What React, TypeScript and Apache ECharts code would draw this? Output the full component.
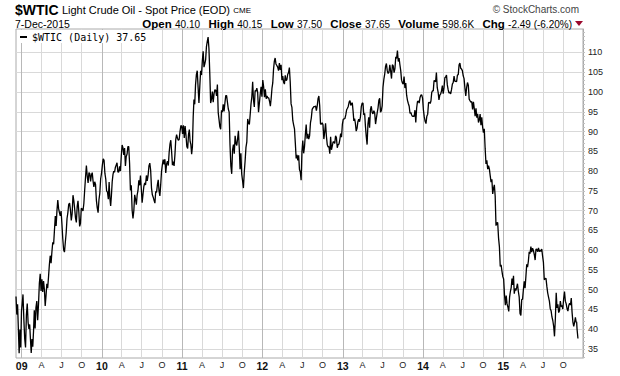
import React, { useEffect, useRef } from "react";
import * as echarts from "echarts";

// WTIC spot price, 8 readings per month
const dec2008 = [48.3, 43.7, 46.3, 40.1, 33.9, 39.9, 35.4, 44.6];
const y2009 = [
  46.3, 48.8, 42.6, 37.6, 35.4, 43.6, 46.5, 41.7,
  40.1, 41.2, 37.5, 34.0, 37.5, 35.6, 39.4, 44.8,
  40.2, 45.5, 47.1, 42.3, 46.3, 51.6, 54.0, 49.7,
  52.6, 49.4, 52.2, 50.1, 45.9, 48.5, 51.5, 50.4,
  53.2, 56.3, 58.6, 56.7, 59.6, 62.0, 61.5, 65.1,
  68.6, 66.1, 70.0, 72.7, 70.5, 69.5, 68.7, 69.9,
  66.7, 62.9, 60.1, 59.5, 62.0, 64.4, 68.0, 69.5,
  71.6, 71.9, 70.2, 67.5, 69.2, 73.9, 72.5, 70.4,
  68.1, 67.0, 71.0, 72.5, 69.7, 66.0, 66.8, 70.6,
  70.4, 69.9, 71.8, 75.2, 78.5, 81.4, 78.7, 77.0,
  79.6, 79.4, 77.4, 79.0, 79.6, 77.5, 76.0, 77.3,
  76.6, 72.6, 70.7, 69.5, 72.7, 74.4, 78.0, 79.4,
];
const y2010 = [
  81.5, 83.1, 82.7, 79.4, 78.0, 75.0, 74.7, 72.9,
  77.2, 73.1, 71.2, 73.9, 77.3, 79.1, 80.0, 79.7,
  80.9, 81.5, 82.1, 79.8, 79.7, 81.2, 80.0, 83.8,
  86.6, 85.9, 84.1, 85.8, 81.3, 83.7, 84.3, 86.2,
  86.2, 82.0, 75.1, 76.4, 70.1, 68.0, 70.0, 74.0,
  72.9, 71.5, 74.0, 75.1, 77.7, 76.4, 78.9, 75.6,
  72.0, 74.1, 76.1, 77.0, 76.5, 78.9, 77.5, 78.9,
  81.3, 82.0, 80.2, 75.7, 74.0, 73.4, 72.6, 71.9,
  74.9, 74.6, 76.5, 77.8, 75.0, 73.7, 76.5, 79.9,
  81.6, 82.9, 81.7, 83.0, 79.5, 81.8, 82.5, 81.4,
  84.7, 86.8, 87.8, 84.9, 81.5, 82.4, 81.3, 84.1,
  88.0, 89.2, 88.3, 87.8, 88.0, 90.0, 91.5, 91.4,
];
const y2011 = [
  89.4, 91.6, 88.4, 91.4, 89.1, 86.2, 85.7, 89.3,
  90.5, 87.5, 86.7, 84.3, 86.2, 93.6, 98.1, 96.9,
  101.8, 104.4, 105.4, 101.2, 97.2, 101.4, 105.4, 104.3,
  107.9, 110.3, 106.3, 107.1, 108.2, 111.5, 112.8, 113.9,
  111.0, 104.7, 97.2, 98.2, 100.1, 97.4, 99.6, 100.6,
  100.4, 99.0, 101.9, 94.8, 93.0, 91.2, 90.6, 95.4,
  94.9, 96.9, 95.1, 97.2, 99.1, 99.1, 97.4, 95.7,
  94.9, 86.6, 81.3, 79.3, 85.4, 86.7, 84.4, 88.9,
  87.0, 86.5, 88.2, 90.2, 85.9, 80.5, 84.5, 79.2,
  77.6, 75.7, 79.7, 82.6, 86.0, 87.4, 93.2, 92.2,
  91.8, 94.3, 97.0, 98.8, 102.6, 98.0, 96.2, 100.4,
  100.2, 101.0, 99.9, 94.9, 97.2, 99.5, 101.3, 98.8,
];
const y2012 = [
  103.0, 101.3, 98.7, 100.7, 98.3, 99.0, 98.5, 98.5,
  97.6, 96.4, 98.4, 100.9, 102.3, 105.8, 107.8, 108.6,
  107.1, 106.7, 106.3, 105.4, 107.3, 105.6, 106.9, 103.0,
  104.0, 102.5, 102.0, 104.2, 102.9, 103.1, 104.5, 104.9,
  106.2, 102.5, 97.0, 96.1, 92.8, 91.7, 90.7, 87.0,
  83.2, 84.1, 82.7, 84.0, 80.4, 79.8, 77.7, 84.9,
  87.7, 84.5, 86.1, 89.2, 91.8, 88.2, 89.4, 88.1,
  88.9, 92.2, 93.4, 95.6, 96.0, 96.3, 96.3, 96.5,
  95.3, 96.5, 98.3, 99.0, 96.6, 91.9, 91.9, 92.2,
  91.7, 88.1, 89.9, 92.1, 88.8, 86.7, 86.1, 86.2,
  84.4, 88.7, 85.4, 86.3, 87.4, 87.4, 87.0, 88.9,
  88.5, 85.9, 86.7, 86.8, 87.9, 89.5, 88.6, 91.8,
];
const y2013 = [
  93.1, 93.2, 93.3, 94.2, 95.5, 95.9, 96.4, 97.5,
  97.8, 96.6, 97.0, 97.3, 95.2, 92.7, 93.3, 92.1,
  90.1, 90.8, 92.5, 93.1, 92.5, 93.7, 96.3, 97.2,
  97.2, 94.2, 94.6, 91.3, 88.7, 86.7, 91.9, 93.6,
  91.0, 95.6, 96.4, 94.8, 94.5, 95.3, 94.7, 91.9,
  93.4, 94.8, 96.0, 97.9, 98.4, 94.9, 95.3, 96.5,
  101.2, 103.2, 104.5, 106.5, 107.2, 105.4, 104.7, 105.0,
  106.9, 105.3, 103.4, 106.9, 106.6, 104.9, 105.9, 108.9,
  108.5, 110.5, 107.7, 108.6, 106.9, 105.4, 103.0, 102.3,
  102.0, 103.9, 101.0, 102.3, 99.2, 97.9, 97.1, 96.4,
  94.6, 94.8, 94.2, 93.8, 93.9, 93.8, 95.4, 92.3,
  95.9, 97.6, 97.7, 97.2, 98.6, 99.2, 99.3, 98.4,
];
const y2014 = [
  95.4, 93.7, 92.6, 92.0, 93.9, 94.4, 97.3, 97.4,
  97.1, 97.8, 99.9, 100.3, 100.3, 102.9, 102.8, 102.6,
  104.9, 101.1, 100.0, 98.0, 99.2, 99.5, 100.3, 101.6,
  99.6, 101.1, 103.6, 103.8, 104.3, 101.8, 100.6, 99.7,
  100.0, 99.5, 100.6, 102.0, 102.4, 104.0, 102.7, 102.7,
  102.6, 104.3, 104.4, 106.9, 107.3, 106.0, 105.8, 105.4,
  104.1, 103.4, 101.0, 99.0, 101.1, 102.4, 101.7, 98.2,
  97.8, 97.4, 97.6, 95.6, 97.5, 95.8, 93.9, 95.9,
  93.5, 94.5, 92.3, 93.0, 94.4, 91.6, 93.6, 91.2,
  89.7, 90.7, 85.8, 81.8, 82.7, 80.5, 81.4, 80.5,
  78.8, 77.2, 77.9, 74.2, 75.6, 76.5, 73.7, 66.2,
  66.9, 67.0, 63.1, 60.9, 55.9, 56.3, 54.7, 53.3,
];
const y2015 = [
  52.7, 48.7, 46.1, 48.5, 46.4, 45.6, 44.5, 48.2,
  49.6, 50.5, 52.8, 51.2, 53.5, 49.0, 50.3, 49.8,
  50.5, 51.5, 49.6, 48.2, 44.0, 43.5, 47.5, 47.6,
  50.1, 52.1, 50.4, 53.3, 56.4, 55.7, 57.2, 59.6,
  59.1, 60.9, 59.5, 60.5, 59.9, 58.9, 57.5, 60.3,
  60.2, 59.6, 60.6, 59.6, 60.0, 59.7, 60.3, 58.5,
  56.9, 52.5, 52.8, 52.9, 50.9, 49.2, 48.1, 47.1,
  45.2, 44.7, 43.1, 42.2, 40.8, 38.2, 42.6, 49.2,
  45.4, 46.3, 44.2, 44.7, 47.1, 45.7, 46.0, 45.1,
  47.7, 49.5, 47.1, 46.4, 45.2, 44.6, 46.0, 46.6,
  46.1, 47.9, 44.2, 41.8, 40.7, 41.7, 43.0, 41.7,
];
const dec2015 = [41.9, 40.0, 39.9, 37.65];

const yearsData: [number, number[]][] = [
  [2009, y2009], [2010, y2010], [2011, y2011], [2012, y2012],
  [2013, y2013], [2014, y2014], [2015, y2015],
];
const yTicks = [35, 40, 45, 50, 55, 60, 65, 70, 75, 80, 85, 90, 95, 100, 105, 110];
const monthLetters = ["J", "F", "M", "A", "M", "J", "J", "A", "S", "O", "N", "D"];
const quarterYears = [2009, 2010, 2011, 2012, 2013, 2014, 2015];
const quarterMonths = [0, 3, 6, 9];

const DAY = 86400000;

function buildSeries(): [number, number][] {
  const pts: [number, number][] = [];
  const d0 = Date.UTC(2008, 11, 6);
  dec2008.forEach((v, k) => pts.push([d0 + (k * 25 * DAY) / 7, v]));
  yearsData.forEach(([yr, vals]) => {
    vals.forEach((v, i) => {
      const m = Math.floor(i / 8);
      const k = i % 8;
      const s = Date.UTC(yr, m, 1);
      const e = Date.UTC(yr, m + 1, 1);
      pts.push([s + ((k + 0.5) / 8) * (e - s), v]);
    });
  });
  const d1 = Date.UTC(2015, 11, 1);
  dec2015.forEach((v, k) => pts.push([d1 + k * 2 * DAY, v]));
  return pts;
}

export default function App() {
  const ref = useRef<HTMLDivElement>(null);
  useEffect(() => {
    document.body.style.margin = "0";
    if (!ref.current) return;
    const chart = echarts.init(ref.current, undefined, { renderer: "svg" });
    const xTicks: number[] = [];
    quarterYears.forEach((y) => quarterMonths.forEach((m) => xTicks.push(Date.UTC(y, m, 1))));
    const minorY: number[] = [];
    for (let v = 33; v <= 115; v++) minorY.push(v);

    chart.setOption({
      animation: false,
      backgroundColor: "#fff",
      grid: {
        left: 16, right: 37, top: 29, bottom: 18,
        show: true, borderColor: "#aaaaaa", borderWidth: 1, backgroundColor: "#fff",
      },
      xAxis: {
        type: "value",
        min: Date.UTC(2008, 11, 6),
        max: Date.UTC(2015, 11, 30),
        axisLine: { show: false },
        axisTick: { show: false, customValues: xTicks },
        splitLine: {
          show: true,
          lineStyle: { color: ["#b8b8b8", "#d9d9d9", "#d9d9d9", "#d9d9d9"], width: 1 },
        },
        axisLabel: {
          customValues: xTicks,
          margin: 2,
          formatter: (val: number) => {
            const d = new Date(val);
            const m = d.getUTCMonth();
            if (m === 0) return "{y|" + String(d.getUTCFullYear()).slice(2) + "}";
            return "{m|" + monthLetters[m] + "}";
          },
          rich: {
            y: { fontFamily: "Liberation Sans", fontWeight: "bold", fontSize: 10.5, color: "#111" },
            m: { fontFamily: "Liberation Sans", fontSize: 9, color: "#222" },
          },
        },
      },
      yAxis: [
        {
          type: "value",
          position: "right",
          min: 32.72,
          max: 115.94,
          axisLine: { show: true, lineStyle: { color: "#aaaaaa" } },
          axisTick: { show: false, customValues: yTicks },
          splitLine: { show: true, lineStyle: { color: "#d9d9d9", width: 1 } },
          axisLabel: {
            customValues: yTicks,
            margin: 5,
            fontFamily: "Liberation Sans",
            fontSize: 9,
            color: "#222",
          },
        },
        {
          type: "value",
          position: "right",
          min: 32.72,
          max: 115.94,
          axisLine: { show: false },
          axisTick: { show: true, customValues: minorY, length: 2, lineStyle: { color: "#c0c0c0" } },
          splitLine: { show: false },
          axisLabel: { show: false },
        },
      ],
      series: [
        {
          type: "line",
          data: buildSeries(),
          showSymbol: false,
          symbol: "none",
          lineStyle: { color: "#000", width: 1.3 },
          z: 3,
        },
      ],
      graphic: [
        {
          type: "text",
          left: 15, top: 3,
          style: {
            text: "{a|$WTIC} {b|Light Crude Oil - Spot Price (EOD)} {c|CME}",
            rich: {
              a: { fontFamily: "Liberation Sans", fontWeight: "bold", fontSize: 14, color: "#000" },
              b: { fontFamily: "Liberation Sans", fontSize: 11, color: "#000" },
              c: { fontFamily: "Liberation Sans", fontSize: 8, color: "#000" },
            },
          },
        },
        {
          type: "text",
          x: 15, y: 24,
          style: {
            text: "7-Dec-2015", fontFamily: "Liberation Sans", fontSize: 10.5, fill: "#000",
            verticalAlign: "middle",
          },
        },
        {
          type: "text",
          x: 572, y: 24,
          style: {
            text:
              "{b|Open} {n|40.10}{n|   }{b|High} {n|40.15}{n|   }{b|Low} {n|37.50}{n|   }{b|Close} {n|37.65}{n|   }{b|Volume} {n|598.6K}{n|   }{b|Chg} {n|-2.49 (-6.20%)}",
            align: "right",
            verticalAlign: "middle",
            rich: {
              b: { fontFamily: "Liberation Sans", fontWeight: "bold", fontSize: 11.5, fill: "#000" },
              n: { fontFamily: "Liberation Sans", fontSize: 10, fill: "#000" },
            },
          },
        },
        {
          type: "polygon",
          shape: { points: [[575, 21], [583, 21], [579, 26]] },
          style: { fill: "#9b0a2e" },
        },
        {
          type: "text",
          x: 579, y: 9,
          style: {
            text: "© StockCharts.com", align: "right", verticalAlign: "middle",
            fontFamily: "Liberation Sans", fontSize: 10, fill: "#444",
          },
        },
        {
          type: "rect",
          z: 10,
          shape: { x: 17, y: 30, width: 131, height: 13 },
          style: { fill: "#fff" },
        },
        {
          type: "rect",
          z: 11,
          shape: { x: 20, y: 36, width: 7, height: 2 },
          style: { fill: "#000" },
        },
        {
          type: "text",
          z: 11,
          x: 32, y: 37,
          style: {
            text: "$WTIC (Daily) 37.65", verticalAlign: "middle",
            fontFamily: "DejaVu Sans Mono", fontSize: 10, fill: "#000",
          },
        },
      ],
    });
    return () => chart.dispose();
  }, []);
  return <div ref={ref} style={{ width: 620, height: 376 }} />;
}
